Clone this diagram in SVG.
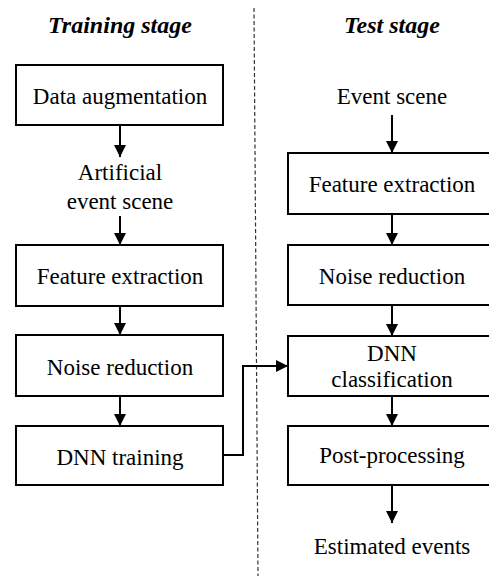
<svg xmlns="http://www.w3.org/2000/svg" width="489" height="576" viewBox="0 0 489 576" font-family="Liberation Serif, Times New Roman, serif">
  <style>
    .box { fill: #ffffff; stroke: #000000; stroke-width: 2; }
    .lbl { font-size: 23px; fill: #000000; text-anchor: middle; }
    .title { font-size: 24px; font-weight: bold; font-style: italic; fill: #000000; text-anchor: middle; }
    .conn { fill: none; stroke: #000000; stroke-width: 2; marker-end: url(#arrow); }
    .divider { stroke: #333333; stroke-width: 1.2; stroke-dasharray: 4 2.5; }
  </style>
  <defs>
    <marker id="arrow" markerUnits="userSpaceOnUse" markerWidth="12" markerHeight="12" refX="12" refY="6" orient="auto">
      <path d="M0,0 L12,6 L0,12 z" fill="#000000"/>
    </marker>
  </defs>

  <rect width="489" height="576" fill="#ffffff"/>

  <!-- stage divider -->
  <line class="divider" x1="254" y1="8" x2="258" y2="576"/>

  <!-- stage titles -->
  <text class="title" x="120" y="33" font-family="Liberation Serif, serif">Training stage</text>
  <text class="title" x="392" y="33" font-family="Liberation Serif, serif">Test stage</text>

  <!-- training stage -->
  <g id="data-augmentation">
    <rect class="box" x="16" y="65" width="207" height="60"/>
    <text class="lbl" x="120" y="104" font-family="Liberation Serif, serif">Data augmentation</text>
  </g>
  <g id="artificial-event-scene">
    <text class="lbl" x="120" y="180" font-family="Liberation Serif, serif">Artificial</text>
    <text class="lbl" x="120" y="209" font-family="Liberation Serif, serif">event scene</text>
  </g>
  <g id="train-feature-extraction">
    <rect class="box" x="16" y="245" width="207" height="61"/>
    <text class="lbl" x="120" y="284" font-family="Liberation Serif, serif">Feature extraction</text>
  </g>
  <g id="train-noise-reduction">
    <rect class="box" x="16" y="335" width="207" height="61"/>
    <text class="lbl" x="120" y="375" font-family="Liberation Serif, serif">Noise reduction</text>
  </g>
  <g id="dnn-training">
    <rect class="box" x="16" y="426" width="207" height="59"/>
    <text class="lbl" x="120" y="465" font-family="Liberation Serif, serif">DNN training</text>
  </g>

  <!-- test stage -->
  <g id="event-scene">
    <text class="lbl" x="392" y="104" font-family="Liberation Serif, serif">Event scene</text>
  </g>
  <g id="test-feature-extraction">
    <rect class="box" x="288" y="153" width="208" height="61"/>
    <text class="lbl" x="392" y="192" font-family="Liberation Serif, serif">Feature extraction</text>
  </g>
  <g id="test-noise-reduction">
    <rect class="box" x="288" y="245" width="208" height="60"/>
    <text class="lbl" x="392" y="284" font-family="Liberation Serif, serif">Noise reduction</text>
  </g>
  <g id="dnn-classification">
    <rect class="box" x="288" y="336" width="208" height="60"/>
    <text class="lbl" x="392" y="361" font-family="Liberation Serif, serif">DNN</text>
    <text class="lbl" x="392" y="387" font-family="Liberation Serif, serif">classification</text>
  </g>
  <g id="post-processing">
    <rect class="box" x="288" y="426" width="208" height="59"/>
    <text class="lbl" x="392" y="463" font-family="Liberation Serif, serif">Post-processing</text>
  </g>
  <g id="estimated-events">
    <text class="lbl" x="392" y="554" font-family="Liberation Serif, serif">Estimated events</text>
  </g>

  <!-- connectors -->
  <g id="connectors">
    <line class="conn" x1="120" y1="125" x2="120" y2="157"/>
    <line class="conn" x1="120" y1="216" x2="120" y2="245"/>
    <line class="conn" x1="120" y1="306" x2="120" y2="335"/>
    <line class="conn" x1="120" y1="396" x2="120" y2="426"/>
    <line class="conn" x1="392" y1="115" x2="392" y2="153"/>
    <line class="conn" x1="392" y1="214" x2="392" y2="245"/>
    <line class="conn" x1="392" y1="305" x2="392" y2="336"/>
    <line class="conn" x1="392" y1="396" x2="392" y2="426"/>
    <line class="conn" x1="392" y1="485" x2="392" y2="523"/>
    <polyline class="conn" points="223,455 243,455 243,366 288,366"/>
  </g>
</svg>
